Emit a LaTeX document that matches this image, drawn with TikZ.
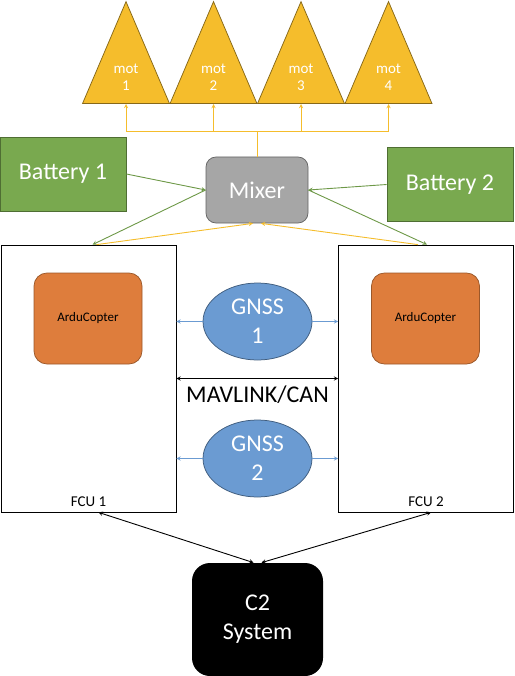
\documentclass[tikz,border=0pt]{standalone}
\usepackage{fontspec}
\setmainfont{Carlito}
\usepackage{tikz}
\usetikzlibrary{shapes.geometric, arrows, positioning}
\definecolor{motgold}{HTML}{F5BD2C}
\definecolor{batgreen}{HTML}{79A94F}
\definecolor{mixgray}{HTML}{A6A6A6}
\definecolor{arduorange}{HTML}{DE7D3C}
\definecolor{gnssblue}{HTML}{6B9BD2}
\tikzstyle{motor} = [isosceles triangle, isosceles triangle stretches, shape border rotate=90, minimum width=87pt, minimum height=102pt, inner sep=0pt, draw=motgold!55!black, fill=motgold, text=white, align=center, font=\fontsize{15}{17.5}\selectfont]
\tikzstyle{battery} = [rectangle, minimum width=126pt, minimum height=74pt, draw=batgreen!65!black, fill=batgreen, text=white, font=\fontsize{24}{29}\selectfont]
\tikzstyle{mixer} = [rectangle, rounded corners=10pt, minimum width=102pt, minimum height=66pt, draw=mixgray!60!black, fill=mixgray, text=white, font=\fontsize{24}{29}\selectfont]
\tikzstyle{fcu} = [rectangle, minimum width=175pt, minimum height=267pt, draw=black]
\tikzstyle{autopilot} = [rectangle, rounded corners=13pt, minimum width=108pt, minimum height=91pt, draw=arduorange!70!black, fill=arduorange, font=\fontsize{13}{15}\selectfont]
\tikzstyle{gnss} = [ellipse, minimum width=109pt, minimum height=77pt, inner sep=0pt, draw=gnssblue!60!black, fill=gnssblue, text=white, align=center, font=\fontsize{24}{29}\selectfont]
\tikzstyle{ground} = [rectangle, rounded corners=18pt, minimum width=131pt, minimum height=113pt, fill=black, text=white, align=center, font=\fontsize{24}{29}\selectfont]
\tikzstyle{power} = [draw=batgreen!90!black, line width=0.9pt, ->, >=stealth]
\tikzstyle{signal} = [draw=motgold, line width=0.9pt, ->, >=stealth]
\tikzstyle{gps} = [draw=gnssblue, line width=0.9pt, ->, >=stealth]
\tikzstyle{link} = [draw=black, line width=0.9pt, <->, >=stealth]

\begin{document}
\begin{tikzpicture}[x=1pt, y=-1pt, line width=0.75pt]
\useasboundingbox (0,0) rectangle (514,676);
\node (mot1) [motor, anchor=south] at (126,104) {mot\\1};
\node (mot2) [motor, anchor=south] at (213.5,104) {mot\\2};
\node (mot3) [motor, anchor=south] at (301,104) {mot\\3};
\node (mot4) [motor, anchor=south] at (388.5,104) {mot\\4};
\node (mixer) [mixer] at (257,190) {Mixer};
\node (bat1) [battery] at (63,174) {Battery 1};
\node (bat2) [battery] at (450,184.5) {Battery 2};
\node (fcu1) [fcu] at (88.5,378.5) {};
\node (fcu2) [fcu] at (426,378.5) {};
\node (ardu1) [autopilot] at (88,318.5) {ArduCopter};
\node (ardu2) [autopilot] at (425.5,318.5) {ArduCopter};
\node (fcuname1) [font=\fontsize{15}{18}\selectfont, above=2pt of fcu1.south] {FCU 1};
\node (fcuname2) [font=\fontsize{15}{18}\selectfont, above=2pt of fcu2.south] {FCU 2};
\node (gnss1) [gnss] at (257.5,321.5) {GNSS\\1};
\node (gnss2) [gnss] at (257.5,458.5) {GNSS\\2};
\node (can) [font=\fontsize{24}{29}\selectfont, inner sep=0pt] at (257.5,395) {MAVLINK/CAN};
\node (c2) [ground] at (257.5,619.5) {C2\\System};
\coordinate (bus) at (257,131);
% mixer to motors
\draw [draw=motgold, line width=0.9pt] (mixer.north) -- (bus);
\draw [signal] (bus) -| (mot1.south);
\draw [signal] (bus) -| (mot2.south);
\draw [signal] (bus) -| (mot3.south);
\draw [signal] (bus) -| (mot4.south);
% power
\draw [power] (bat1.east) -- (mixer.west);
\draw [power] (bat2.west) -- (mixer.east);
\draw [power] (mixer.west) -- ([xshift=4pt]fcu1.north);
\draw [power] (mixer.east) -- ([xshift=1pt]fcu2.north);
\draw [signal] ([xshift=8pt]fcu1.north) -- ([xshift=-4pt]mixer.south);
\draw [signal] ([xshift=-8pt]fcu2.north) -- ([xshift=4pt]mixer.south);
% gnss
\draw [gps] (gnss1.west) -- (fcu1.east |- gnss1.west);
\draw [gps] (gnss1.east) -- (fcu2.west |- gnss1.east);
\draw [gps] (gnss2.west) -- (fcu1.east |- gnss2.west);
\draw [gps] (gnss2.east) -- (fcu2.west |- gnss2.east);
\draw [link] (fcu1.east) -- (fcu2.west);
% ground link
\draw [link] ([xshift=10pt]fcu1.south) -- ([xshift=-4pt]c2.north);
\draw [link] ([xshift=5pt]fcu2.south) -- ([xshift=4pt]c2.north);
\end{tikzpicture}
\end{document}
